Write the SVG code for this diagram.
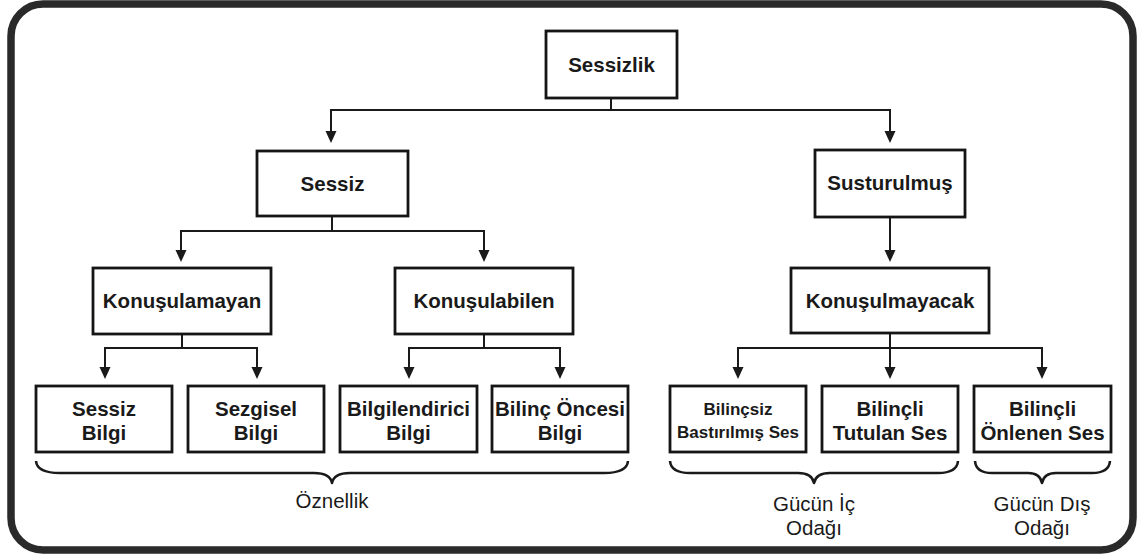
<svg xmlns="http://www.w3.org/2000/svg" width="1140" height="557" viewBox="0 0 1140 557">
  <style>
    .box { fill: #ffffff; stroke: #151515; stroke-width: 2.8; }
    .lbl { font-family: "Liberation Sans", Arial, sans-serif; font-weight: bold; font-size: 20.5px; fill: #1a1a1a; text-anchor: middle; }
    .sm { font-size: 17px; }
    .wire { fill: none; stroke: #1a1a1a; stroke-width: 2; }
    .brace { fill: none; stroke: #1a1a1a; stroke-width: 2.6; stroke-linejoin: round; }
    .cap { font-family: "Liberation Sans", Arial, sans-serif; font-size: 20.5px; fill: #1a1a1a; text-anchor: middle; }
  </style>
  <defs>
    <marker id="arrow" viewBox="0 0 12 12" markerWidth="12" markerHeight="12" refX="9" refY="6" orient="auto" markerUnits="userSpaceOnUse">
      <path d="M0,0.5 L12,6 L0,11.5 Z" fill="#1a1a1a"/>
    </marker>
  </defs>

  <rect width="1140" height="557" fill="#ffffff"/>
  <!-- outer frame -->
  <rect x="11" y="4" width="1122" height="546" rx="32" ry="32" fill="none" stroke="#2a2a2a" stroke-width="7.5"/>

  <!-- connectors -->
  <g id="connectors">
    <path class="wire" d="M611,98 V110"/>
    <path class="wire" d="M331,140 V110 H890 V140" marker-end="url(#arrow)"/>
    <path class="wire" d="M331,110 V140" marker-end="url(#arrow)"/>
    <!-- Sessiz branches -->
    <path class="wire" d="M332,216 V231"/>
    <path class="wire" d="M181,259 V231 H484 V259" marker-end="url(#arrow)"/>
    <path class="wire" d="M181,231 V259" marker-end="url(#arrow)"/>
    <!-- Susturulmuş to Konuşulmayacak -->
    <path class="wire" d="M890,217 V259" marker-end="url(#arrow)"/>
    <!-- Konuşulamayan branches -->
    <path class="wire" d="M182,334 V348"/>
    <path class="wire" d="M105,376 V348 H257 V376" marker-end="url(#arrow)"/>
    <path class="wire" d="M105,348 V376" marker-end="url(#arrow)"/>
    <!-- Konuşulabilen branches -->
    <path class="wire" d="M484,334 V348"/>
    <path class="wire" d="M409,376 V348 H560 V376" marker-end="url(#arrow)"/>
    <path class="wire" d="M409,348 V376" marker-end="url(#arrow)"/>
    <!-- Konuşulmayacak branches -->
    <path class="wire" d="M890,333 V348"/>
    <path class="wire" d="M738,376 V348 H1042 V376" marker-end="url(#arrow)"/>
    <path class="wire" d="M738,348 V376" marker-end="url(#arrow)"/>
    <path class="wire" d="M890,348 V376" marker-end="url(#arrow)"/>
  </g>

  <!-- nodes -->
  <g id="n-sessizlik">
    <rect class="box" x="546" y="31" width="131" height="67"/>
    <text class="lbl" x="611.5" y="72">Sessizlik</text>
  </g>
  <g id="n-sessiz">
    <rect class="box" x="257" y="151" width="151" height="65"/>
    <text class="lbl" x="332.5" y="191">Sessiz</text>
  </g>
  <g id="n-susturulmus">
    <rect class="box" x="815" y="150" width="150" height="67"/>
    <text class="lbl" x="890" y="190">Susturulmuş</text>
  </g>
  <g id="n-konusulamayan">
    <rect class="box" x="93" y="268" width="178" height="66"/>
    <text class="lbl" x="182" y="308">Konuşulamayan</text>
  </g>
  <g id="n-konusulabilen">
    <rect class="box" x="395" y="268" width="178" height="66"/>
    <text class="lbl" x="484" y="308">Konuşulabilen</text>
  </g>
  <g id="n-konusulmayacak">
    <rect class="box" x="791" y="268" width="198" height="65"/>
    <text class="lbl" x="890" y="308">Konuşulmayacak</text>
  </g>

  <g id="n-sessiz-bilgi">
    <rect class="box" x="36" y="386" width="136" height="66"/>
    <text class="lbl" x="104" y="416">Sessiz</text>
    <text class="lbl" x="104" y="440">Bilgi</text>
  </g>
  <g id="n-sezgisel-bilgi">
    <rect class="box" x="188" y="386" width="136" height="66"/>
    <text class="lbl" x="256" y="416">Sezgisel</text>
    <text class="lbl" x="256" y="440">Bilgi</text>
  </g>
  <g id="n-bilgilendirici-bilgi">
    <rect class="box" x="340" y="386" width="137" height="66"/>
    <text class="lbl" x="408.5" y="416">Bilgilendirici</text>
    <text class="lbl" x="408.5" y="440">Bilgi</text>
  </g>
  <g id="n-bilinc-oncesi-bilgi">
    <rect class="box" x="492" y="386" width="136" height="66"/>
    <text class="lbl" x="560" y="416">Bilinç Öncesi</text>
    <text class="lbl" x="560" y="440">Bilgi</text>
  </g>

  <g id="n-bilincsiz">
    <rect class="box" x="670" y="386" width="136" height="66"/>
    <text class="lbl sm" x="738" y="415">Bilinçsiz</text>
    <text class="lbl sm" x="738" y="438">Bastırılmış Ses</text>
  </g>
  <g id="n-tutulan">
    <rect class="box" x="822" y="386" width="136" height="66"/>
    <text class="lbl" x="890" y="416">Bilinçli</text>
    <text class="lbl" x="890" y="440">Tutulan Ses</text>
  </g>
  <g id="n-onlenen">
    <rect class="box" x="974" y="386" width="137" height="66"/>
    <text class="lbl" x="1042.5" y="416">Bilinçli</text>
    <text class="lbl" x="1042.5" y="440">Önlenen Ses</text>
  </g>

  <!-- group braces and captions -->
  <g id="g-oznellik">
    <path class="brace" d="M36,461 Q37,473 60,473 L314,473 Q330,473 332,483 Q334,473 350,473 L604,473 Q627,473 628,461"/>
    <text class="cap" x="332" y="508">Öznellik</text>
  </g>
  <g id="g-ic-odak">
    <path class="brace" d="M670,461 Q671,473 690,473 L798,473 Q812,473 814,483 Q816,473 830,473 L938,473 Q957,473 958,461"/>
    <text class="cap" x="814" y="511">Gücün İç</text>
    <text class="cap" x="814" y="535">Odağı</text>
  </g>
  <g id="g-dis-odak">
    <path class="brace" d="M975,461 Q976,473 992,473 L1028,473 Q1040,473 1042,483 Q1044,473 1056,473 L1092,473 Q1109,473 1110,461"/>
    <text class="cap" x="1042" y="511">Gücün Dış</text>
    <text class="cap" x="1042" y="535">Odağı</text>
  </g>
</svg>
